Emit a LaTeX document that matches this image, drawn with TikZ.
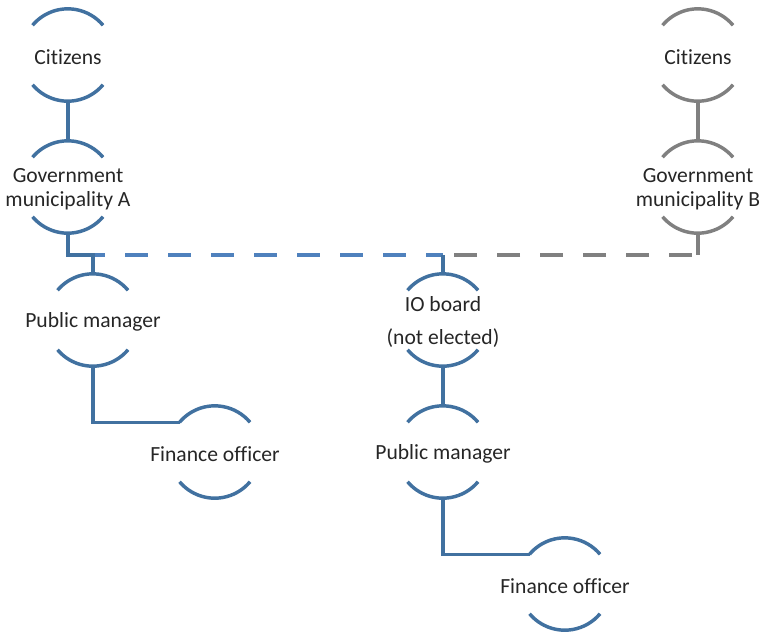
\documentclass[tikz,border=0pt]{standalone}
\usepackage{fontspec}
\setmainfont{Carlito}[Ligatures=CommonOff]
\definecolor{linkblue}{RGB}{65,113,160}
\definecolor{dashblue}{RGB}{79,129,189}
\definecolor{linkgray}{RGB}{128,128,128}
\definecolor{textgray}{RGB}{38,38,38}
\tikzset{
  unit/.style={circle, minimum size=69pt, inner sep=0pt,
    label={[align=center, text=textgray, yshift=-1.5pt, font=\fontsize{16.2pt}{18pt}\selectfont]center:#1}},
  blueline/.style={linkblue, line width=2.6pt},
  grayline/.style={linkgray, line width=2.6pt},
  bluedash/.style={dashblue, line width=2.6pt, dash pattern=on 17.25pt off 15pt},
  graydash/.style={linkgray, line width=2.6pt, dash pattern=on 17.25pt off 15pt},
}
\begin{document}
\begin{tikzpicture}[x=0.75pt, y=-0.75pt]
    \useasboundingbox (0,0) rectangle (762,637);
    \node[unit={Citizens}] (citA) at (68,55) {};
    \node[unit={Government\\municipality A}] (govA) at (68,187) {};
    \node[unit={Citizens}] (citB) at (698,55) {};
    \node[unit={Government\\municipality B}] (govB) at (698,187) {};
    \node[unit={Public manager}] (pmA) at (93,320) {};
    \node[unit={Finance officer}] (foA) at (215,452) {};
    \node[unit={IO board\\[6.75pt](not elected)}] (io) at (443,320) {};
    \node[unit={Public manager}] (pmB) at (443,452) {};
    \node[unit={Finance officer}] (foB) at (565,584) {};
    \coordinate (bus) at (68,255);
    \foreach \n in {citA,govA,pmA,foA,io,pmB,foB} {
        \draw[blueline] (\n.140) arc[start angle=140, end angle=40, radius=34.5pt];
        \draw[blueline] (\n.220) arc[start angle=220, end angle=320, radius=34.5pt];
    }
    \foreach \n in {citB,govB} {
        \draw[grayline] (\n.140) arc[start angle=140, end angle=40, radius=34.5pt];
        \draw[grayline] (\n.220) arc[start angle=220, end angle=320, radius=34.5pt];
    }
    \draw[blueline] (citA.south) -- (govA.north);
    \draw[grayline] (citB.south) -- (govB.north);
    \draw[bluedash, dash phase=21.75pt] (govA.south |- bus) -- (io.north |- bus);
    \draw[graydash, dash phase=27.75pt] (govB.south |- bus) -- (io.north |- bus);
    \draw[blueline] (govA.south) -- (govA.south |- bus) -| (pmA.north);
    \draw[grayline] (govB.south) -- (govB.south |- bus);
    \draw[blueline] (io.north |- bus) -- (io.north);
    \draw[blueline] (pmA.south) |- (foA.140);
    \draw[blueline] (io.south) -- (pmB.north);
    \draw[blueline] (pmB.south) |- (foB.140);
\end{tikzpicture}
\end{document}
